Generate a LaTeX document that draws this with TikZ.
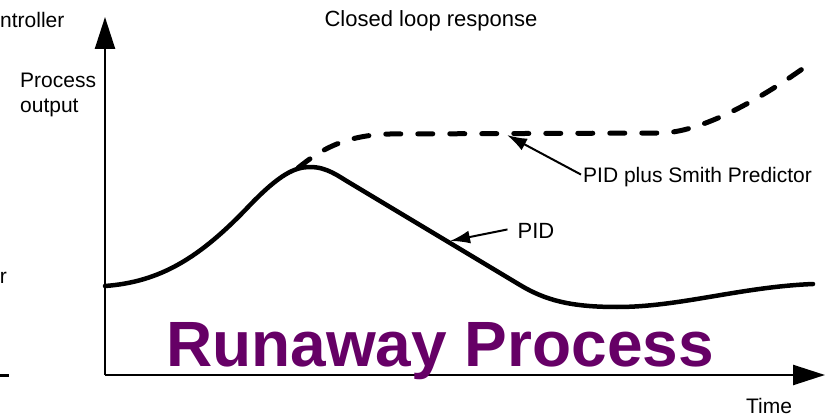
\documentclass[tikz,border=0pt]{standalone}
\usepackage{fontspec}
\setmainfont{Liberation Sans}
\usetikzlibrary{arrows.meta}
\definecolor{runaway}{RGB}{102,0,102}
\begin{document}
\begin{tikzpicture}[x=1pt,y=-1pt,
  lbl/.style={inner sep=0pt, font=\fontsize{21}{25}\selectfont},
  axisline/.style={line width=2.4pt, -{Triangle[length=32pt,width=20pt]}},
  ptr/.style={line width=2pt, -{Latex[length=20pt,width=13pt]}},
  pidcurve/.style={line width=4.5pt, line cap=round, line join=round},
  smithcurve/.style={line width=5pt, line cap=round, dash pattern=on 15pt off 17pt}]
\useasboundingbox (0,0) rectangle (828,417);

% axes
\coordinate (O) at (105,375);
\coordinate (ytip) at (105,17);
\coordinate (xtip) at (825,375);
\draw[axisline] (O) -- (ytip);
\draw[axisline] (O) -- (xtip);

% fragments at the left edge
\node[lbl, anchor=base west] (ctrl) at (0,28) {ntroller};
\node[lbl, anchor=base east] (frag) at (7,283) {r};
\coordinate (fa) at (0,375);
\coordinate (fb) at (9,375);
\draw[line width=3pt] (fa) -- (fb);

% labels
\node[lbl, anchor=base, font=\fontsize{22}{26}\selectfont] (title) at (431,27) {Closed loop response};
\node[lbl, anchor=base west] (pout1) at (20,88) {Process};
\node[lbl, anchor=base west] (pout2) at (20,113) {output};
\node[lbl, anchor=base] (time) at (769,413) {Time};

% PID curve
\draw[pidcurve] (105,286) .. controls (160,282) and (200,258) .. (250,205)
  .. controls (280,174) and (295,167) .. (310,167)
  .. controls (327,167) and (338,176) .. (350,183)
  -- (520,285)
  .. controls (545,300) and (570,307) .. (617,307)
  .. controls (680,307) and (740,287) .. (813,284);

% PID plus Smith predictor curve
\draw[smithcurve] (298,168) .. controls (320,150) and (345,135) .. (390,134)
  -- (660,133) .. controls (700,133) and (760,100) .. (812,62);

% pointer labels
\node[lbl, anchor=base west] (smith) at (583,183) {PID plus Smith Predictor};
\coordinate (smithtip) at (507,135);
\draw[ptr] ([xshift=-2pt,yshift=3pt]smith.west) -- (smithtip);

\node[lbl, anchor=base, font=\fontsize{22}{26}\selectfont] (pid) at (536,238) {PID};
\coordinate (pidtip) at (450,241);
\draw[ptr] ([xshift=-10pt,yshift=1pt]pid.west) -- (pidtip);

% big title
\node[inner sep=0pt, anchor=base, text=runaway, font=\fontsize{64}{70}\selectfont\bfseries] (runaway) at (440,366) {Runaway Process};
\end{tikzpicture}
\end{document}
